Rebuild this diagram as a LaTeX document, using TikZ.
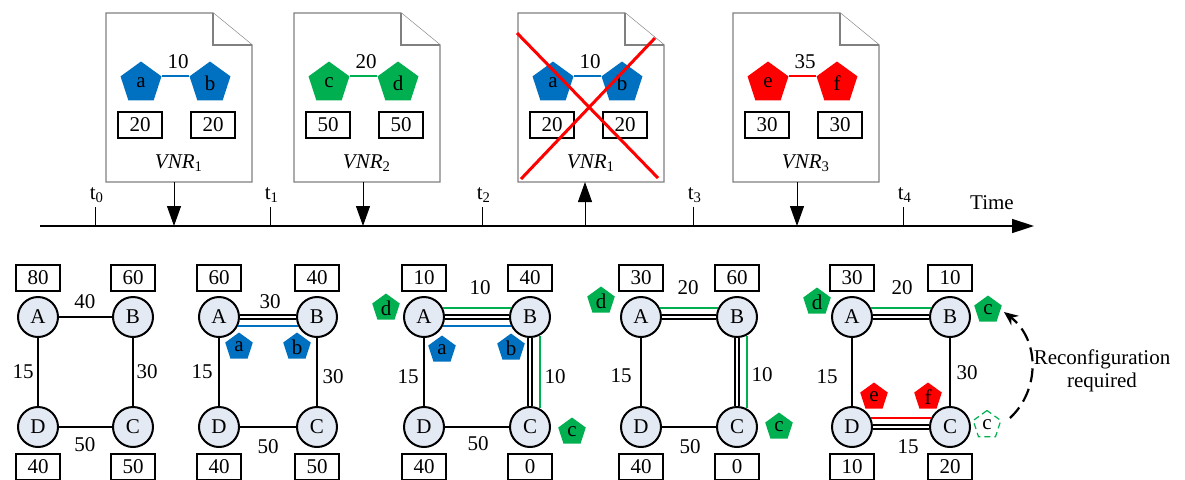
\documentclass[tikz,border=0pt]{standalone}
\usepackage{fontspec}
\setmainfont{Liberation Serif}
\usetikzlibrary{shapes.geometric,arrows.meta,calc}
\definecolor{vblue}{HTML}{0070C0}
\definecolor{vgreen}{HTML}{00B050}
\definecolor{vred}{HTML}{FF0000}
\definecolor{nodefill}{HTML}{E4EAF4}
\definecolor{docgray}{HTML}{808080}
\tikzset{
 every node/.style={font=\fontsize{10.5}{11.5}\selectfont},
 snode/.style={circle,draw,line width=1pt,fill=nodefill,minimum size=20pt,inner sep=0pt},
 capbox/.style={draw,line width=0.9pt,minimum width=22pt,minimum height=13pt,inner sep=0pt},
 vbig/.style={regular polygon,regular polygon sides=5,minimum size=21.5pt,inner sep=0pt,fill=#1},
 vsmall/.style={regular polygon,regular polygon sides=5,minimum size=14.5pt,inner sep=0pt,fill=#1},
 vghost/.style={regular polygon,regular polygon sides=5,minimum size=14.5pt,inner sep=0pt,fill=white,draw=vgreen,densely dashed,line width=0.6pt},
 plink/.style={line width=1pt},
 ulink/.style={draw=black,double=white,line width=0.8pt,double distance=1.2pt},
 vlink/.style={line width=1pt,draw=#1},
 tickline/.style={line width=0.5pt},
 evarrow/.style={line width=0.5pt,-{Triangle[length=10pt,width=7pt]}},
 docline/.style={draw=docgray,line width=0.6pt,fill=white},
}
% #1 prefix, #2 left x, #3 colour, #4 #5 letters, #6 link bw, #7 capacity, #8 index
\newcommand{\VnrDoc}[8]{%
 \draw[docline] (#2,13) -- ({#2+107},13) -- ({#2+146},45) -- ({#2+146},182) -- (#2,182) -- cycle;
 \draw[docline] ({#2+107},13) -- ({#2+107},45) -- ({#2+146},45);
 \node[vbig=#3] (#1p) at ({#2+35},83) {#4};
 \node[vbig=#3] (#1q) at ({#2+104},83) {#5};
 \draw[vlink=#3] (#1p.corner 5) -- (#1q.corner 2);
 \node (#1bw) at ({#2+72},62) {#6};
 \node[capbox] (#1cp) at ({#2+34},125) {#7};
 \node[capbox] (#1cq) at ({#2+107},125) {#7};
 \node (#1name) at ({#2+73},163) {\textit{VNR}\textsubscript{#8}};
}
% #1 prefix, #2 left x, #3 right x, #4..#7 capacities A B D C
\newcommand{\SNet}[7]{%
 \node[snode] (#1A) at (#2,317) {A};
 \node[snode] (#1B) at (#3,317) {B};
 \node[snode] (#1D) at (#2,427) {D};
 \node[snode] (#1C) at (#3,427) {C};
 \node[capbox] (#1a) at (#2,278) {#4};
 \node[capbox] (#1b) at (#3,278) {#5};
 \node[capbox] (#1d) at (#2,467) {#6};
 \node[capbox] (#1c) at (#3,467) {#7};
}
\begin{document}
\begin{tikzpicture}[x=0.5pt,y=-0.5pt]
\useasboundingbox (0,0) rectangle (1185,479);
% ---------- VNR documents ----------
\VnrDoc{d1}{106}{vblue}{a}{b}{10}{20}{1}
\VnrDoc{d2}{294}{vgreen}{c}{d}{20}{50}{2}
\VnrDoc{d3}{518}{vblue}{a}{b}{10}{20}{1}
\VnrDoc{d4}{733}{vred}{e}{f}{35}{30}{3}
\draw[vred,line width=1.5pt] (517,33) -- (658,178) (655,38) -- (521,179);
% ---------- time line ----------
\coordinate (tl0) at (40,226);
\coordinate (tl1) at (1034,226);
\draw[line width=0.75pt,-{Triangle[length=11pt,width=7pt]}] (tl0) -- (tl1);
\node (time) at (992,203) {Time};
\foreach \x/\i in {95/0,270/1,482/2,693/3,903/4}{
 \coordinate (tk\i) at (\x,207);
 \draw[tickline] (tk\i) -- (tk\i |- tl0);
 \node (tlab\i) at ({\x+2},195) {t\textsubscript{\i}};
}
\coordinate (e1) at (174,182);
\coordinate (e2) at (363,182);
\coordinate (e3) at (585,182);
\coordinate (e4) at (797,182);
\draw[evarrow] (e1) -- (e1 |- tl0);
\draw[evarrow] (e2) -- (e2 |- tl0);
\draw[evarrow] (e3 |- tl0) -- (e3);
\draw[evarrow] (e4) -- (e4 |- tl0);
% ---------- substrate networks ----------
\SNet{n1}{38}{133}{80}{60}{40}{50}
\draw[plink] (n1A) -- (n1B);
\draw[plink] (n1B) -- (n1C);
\draw[plink] (n1C) -- (n1D);
\draw[plink] (n1D) -- (n1A);
\node (n1l1) at (85,302) {40};
\node (n1l2) at (23,372) {15};
\node (n1l3) at (147,372) {30};
\node (n1l4) at (85,445) {50};

\SNet{n2}{219}{317}{60}{40}{40}{50}
\draw[ulink] (n2A) -- (n2B);
\draw[plink] (n2B) -- (n2C);
\draw[plink] (n2C) -- (n2D);
\draw[plink] (n2D) -- (n2A);
\draw[vlink=vblue] (n2A.-24) -- (n2B.-156);
\node[vsmall=vblue] (n2pa) at (239,347) {a};
\node[vsmall=vblue] (n2pb) at (297,347) {b};
\node (n2l1) at (270,302) {30};
\node (n2l2) at (202,372) {15};
\node (n2l3) at (333,377) {30};
\node (n2l4) at (268,447) {50};

\SNet{n3}{424}{530}{10}{40}{40}{0}
\draw[ulink] (n3A) -- (n3B);
\draw[ulink] (n3B) -- (n3C);
\draw[plink] (n3C) -- (n3D);
\draw[plink] (n3D) -- (n3A);
\draw[vlink=vgreen] (n3A.24) -- (n3B.156);
\draw[vlink=vblue] (n3A.-24) -- (n3B.-156);
\draw[vlink=vgreen] (n3B.-62) -- (n3C.62);
\node[vsmall=vgreen] (n3pd) at (386,308) {d};
\node[vsmall=vblue] (n3pa) at (442,350) {a};
\node[vsmall=vblue] (n3pb) at (511,348) {b};
\node[vsmall=vgreen] (n3pc) at (572,432) {c};
\node (n3l1) at (480,288) {10};
\node (n3l2) at (408,377) {15};
\node (n3l3) at (555,377) {10};
\node (n3l4) at (478,444) {50};

\SNet{n4}{641}{737}{30}{60}{40}{0}
\draw[ulink] (n4A) -- (n4B);
\draw[ulink] (n4B) -- (n4C);
\draw[plink] (n4C) -- (n4D);
\draw[plink] (n4D) -- (n4A);
\draw[vlink=vgreen] (n4A.24) -- (n4B.156);
\draw[vlink=vgreen] (n4B.-62) -- (n4C.62);
\node[vsmall=vgreen] (n4pd) at (601,301) {d};
\node[vsmall=vgreen] (n4pc) at (779,427) {c};
\node (n4l1) at (688,288) {20};
\node (n4l2) at (621,376) {15};
\node (n4l3) at (762,375) {10};
\node (n4l4) at (690,447) {50};

\SNet{n5}{852}{950}{30}{10}{10}{20}
\draw[ulink] (n5A) -- (n5B);
\draw[plink] (n5B) -- (n5C);
\draw[ulink] (n5C) -- (n5D);
\draw[plink] (n5D) -- (n5A);
\draw[vlink=vgreen] (n5A.24) -- (n5B.156);
\draw[vlink=vred] (n5D.24) -- (n5C.156);
\node[vsmall=vgreen] (n5pd) at (817,302) {d};
\node[vsmall=vgreen] (n5pc) at (988,310) {c};
\node[vsmall=vred] (n5pe) at (874,397) {e};
\node[vsmall=vred] (n5pf) at (928,397) {f};
\node[vghost] (n5pg) at (987,425) {c};
\node (n5l1) at (902,288) {20};
\node (n5l2) at (827,377) {15};
\node (n5l3) at (967,373) {30};
\node (n5l4) at (908,447) {15};
\draw[line width=1.1pt,dash pattern=on 7pt off 3.5pt,-{Stealth[length=7pt,width=6pt]}]
 ($(n5pg)+(23,-7)$) .. controls +(30,-28) and +(36,28) .. ($(n5pc)+(16,2)$);
\node[align=center] (reconf) at (1102,371) {Reconfiguration\\required};
\end{tikzpicture}
\end{document}
